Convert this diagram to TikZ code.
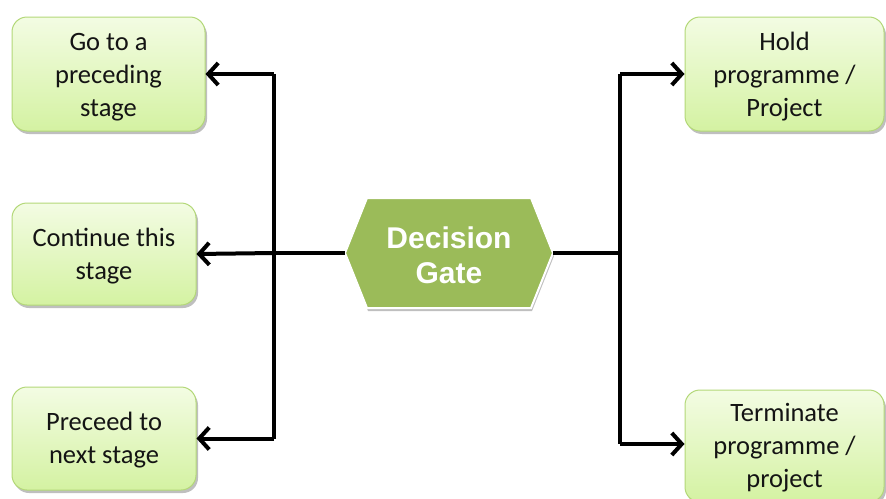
\documentclass[tikz,border=0pt]{standalone}
\usepackage{fontspec}
\setmainfont{Carlito}
\newfontfamily\gatefont{Liberation Sans}
\usetikzlibrary{arrows.meta,shadows}
\definecolor{boxtop}{HTML}{F3FCE3}
\definecolor{boxbot}{HTML}{D4F2A2}
\definecolor{boxline}{HTML}{B3D878}
\definecolor{gatefill}{HTML}{9BBB59}
\tikzset{
  optbox/.style={rounded corners=15pt, draw=boxline, line width=1pt,
    top color=boxtop, bottom color=boxbot,
    drop shadow={shadow xshift=2pt, shadow yshift=-3pt, opacity=0.25, fill=black}},
  opttext/.style={align=center, font=\fontsize{26.5}{33}\selectfont, text=black!92},
  conn/.style={line width=4pt, line join=miter, black},
  tip/.style={-{Straight Barb[length=10pt,width=22pt]}},
  gatebox/.style={draw=white, line width=2pt, fill=gatefill,
    drop shadow={shadow xshift=1pt, shadow yshift=-3pt, opacity=0.25, fill=black}},
  gatetext/.style={align=center, text=white, font=\gatefont\bfseries\fontsize{30}{35}\selectfont}
}
\begin{document}
\begin{tikzpicture}[x=1pt,y=-1pt]
\useasboundingbox (0,0) rectangle (886,498);
% option boxes
\node[optbox, minimum width=193pt, minimum height=114pt] (b1) at (108.5,74) {};
\node[optbox, minimum width=184pt, minimum height=102pt] (b2) at (104,254) {};
\node[optbox, minimum width=184pt, minimum height=103pt] (b3) at (104,438.5) {};
\node[optbox, minimum width=199pt, minimum height=114pt] (b4) at (784.5,74) {};
\node[optbox, minimum width=199pt, minimum height=112pt] (b5) at (784.5,446) {};
\node[opttext] (t1) at ([yshift=-3pt]b1.center) {Go to a\\preceding\\stage};
\node[opttext] (t2) at ([yshift=-2pt]b2.center) {Continue this\\stage};
\node[opttext] (t3) at ([yshift=-2pt]b3.center) {Preceed to\\next stage};
\node[opttext] (t4) at ([yshift=-3pt]b4.center) {Hold\\programme /\\Project};
\node[opttext] (t5) at ([yshift=-2pt]b5.center) {Terminate\\programme /\\project};
% decision gate hexagon
\coordinate (gL) at (345,253);
\coordinate (gR) at (553,253);
\coordinate (gTL) at (367,198);
\coordinate (gTR) at (531,198);
\coordinate (gBL) at (367,308);
\coordinate (gBR) at (531,308);
\path[gatebox] (gL) -- (gTL) -- (gTR) -- (gR) -- (gBR) -- (gBL) -- cycle;
\node[gatetext] (gate) at (449,255) {Decision\\Gate};
% junctions
\coordinate (jL) at (274,253);
\coordinate (jR) at (620,253);
% left connectors
\draw[conn] (gL) -- (jL);
\draw[conn] (b1.east -| jL) -- (b3.east -| jL);
\draw[conn,tip] (b1.east -| jL) -- (b1.east);
\draw[conn,tip] (jL) -- (b2.east);
\draw[conn,tip] (b3.east -| jL) -- (b3.east);
% right connectors
\draw[conn] (gR) -- (jR);
\draw[conn] (b4.west -| jR) -- ([yshift=2pt]b5.west -| jR);
\draw[conn,tip] (b4.west -| jR) -- (b4.west);
\draw[conn,tip] ([yshift=2pt]b5.west -| jR) -- ([yshift=2pt]b5.west);
\end{tikzpicture}
\end{document}
